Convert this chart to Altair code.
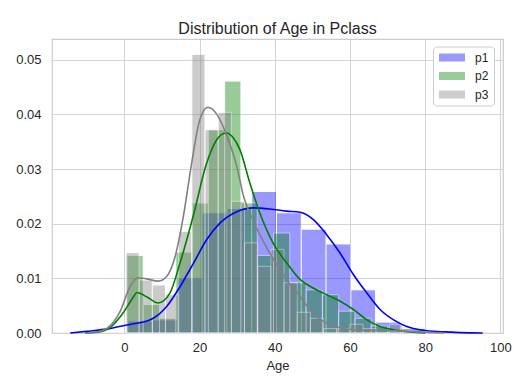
import altair as alt
import pandas as pd

# ---- data ----
series = ["p1", "p2", "p3"]
colors = ["blue", "green", "gray"]

# histogram bins: first edge, bin width, bar heights (density)
bin_start = [0.92, 0.67, 0.42]
bin_width = [6.59, 4.333, 3.504]
p1_hist = [0.0022, 0.0024, 0.0101, 0.0220, 0.0228, 0.0259, 0.0220, 0.0190,
           0.0163, 0.0079, 0.0020, 0.0008]
p2_hist = [0.0142, 0.0052, 0.0027, 0.0148, 0.0238, 0.0372, 0.0461, 0.0238,
           0.0142, 0.0183, 0.0092, 0.0079, 0.0070, 0.0040, 0.0027, 0.0013]
p3_hist = [0.0147, 0.0097, 0.0088, 0.0070, 0.0186, 0.0510, 0.0372, 0.0404,
           0.0241, 0.0165, 0.0122, 0.0153, 0.0092, 0.0038, 0.0027, 0.0008,
           0.0008, 0.0016, 0.0008, 0.0000, 0.0016]

# KDE curves (age, density)
p1_kde_x = [-14.4, -10.0, -4.0, 2.4, 5.1, 7.7, 11.3, 14.8, 18.4, 21.9, 25.4,
            29.9, 34.3, 38.7, 43.1, 46.7, 50.2, 53.8, 57.4, 60.9, 64.5, 68.0,
            71.6, 75.1, 78.6, 85.0, 95.3]
p1_kde_y = [0.0, 0.0003, 0.0008, 0.0017, 0.0020, 0.0027, 0.0049, 0.0085,
            0.0128, 0.0171, 0.0201, 0.0222, 0.0229, 0.0227, 0.0223, 0.0221,
            0.0208, 0.0180, 0.0146, 0.0107, 0.0073, 0.0043, 0.0024, 0.0012,
            0.0006, 0.0002, 0.0]
p2_kde_x = [-10.4, -6.0, -3.8, -0.3, 2.4, 3.3, 6.0, 9.0, 12.1, 14.8, 18.3,
            21.9, 24.6, 27.0, 29.0, 30.7, 33.4, 36.0, 39.6, 43.2, 46.7, 50.3,
            53.8, 57.4, 60.9, 64.5, 68.0, 71.6, 76.0, 80.0]
p2_kde_y = [0.0, 0.0003, 0.0010, 0.0037, 0.0066, 0.0074, 0.0066, 0.0055,
            0.0073, 0.0128, 0.0214, 0.0311, 0.0354, 0.0366, 0.0357, 0.0336,
            0.0274, 0.0220, 0.0164, 0.0128, 0.0098, 0.0082, 0.0070, 0.0058,
            0.0043, 0.0024, 0.0012, 0.0006, 0.0002, 0.0]
p3_kde_x = [-10.0, -6.0, -3.8, -1.1, 1.5, 3.7, 5.9, 9.0, 11.3, 13.5, 15.7,
            17.9, 20.1, 22.2, 24.6, 27.3, 29.9, 31.7, 34.3, 38.7, 43.1, 46.7,
            50.2, 53.8, 57.4, 60.9, 66.0, 72.0, 78.0, 85.0]
p3_kde_y = [0.0, 0.0004, 0.0013, 0.0040, 0.0085, 0.0101, 0.0099, 0.0095,
            0.0104, 0.0140, 0.0214, 0.0311, 0.0391, 0.0413, 0.0400, 0.0360,
            0.0305, 0.0250, 0.0205, 0.0146, 0.0098, 0.0067, 0.0036, 0.0018,
            0.0009, 0.0006, 0.0005, 0.0004, 0.0002, 0.0]

x_ticks = [0, 20, 40, 60, 80, 100]
y_ticks = [0.0, 0.01, 0.02, 0.03, 0.04, 0.05]

# ---- tables ----
rows = []
for s, start, w, hs in zip(series, bin_start, bin_width, [p1_hist, p2_hist, p3_hist]):
    for i, h in enumerate(hs):
        rows.append({"series": s, "x0": start + i * w, "x1": start + (i + 1) * w,
                     "density": h})
bars_df = pd.DataFrame(rows)

krows = []
for s, xs, ys in zip(series, [p1_kde_x, p2_kde_x, p3_kde_x],
                     [p1_kde_y, p2_kde_y, p3_kde_y]):
    for a, d in zip(xs, ys):
        krows.append({"series": s, "age": a, "density": d})
kde_df = pd.DataFrame(krows)

FONT = "Liberation Sans"
TXT = "#262626"

xscale = alt.Scale(domain=[-19.25, 100.7], nice=False, zero=False)
yscale = alt.Scale(domain=[0, 0.0538], nice=False)

xaxis = alt.Axis(values=x_ticks, title="Age", format="d", labelPadding=8,
                 titlePadding=5)
yaxis = alt.Axis(values=y_ticks, title=None, format=".2f", labelPadding=11)

legend_symbol = "M-2.17,-0.67H2.17V0.67H-2.17Z"

bars = alt.Chart(bars_df).mark_rect(
    opacity=0.4, stroke="white", strokeWidth=1
).encode(
    x=alt.X("x0:Q", scale=xscale, axis=xaxis),
    x2="x1:Q",
    y=alt.Y("density:Q", scale=yscale, axis=yaxis),
    y2=alt.datum(0),
    color=alt.Color(
        "series:N",
        scale=alt.Scale(domain=series, range=colors),
        legend=alt.Legend(
            title=None, orient="none", legendX=381, legendY=7.5,
            symbolType=legend_symbol, symbolSize=144, symbolOpacity=0.4,
            symbolStrokeWidth=0, rowPadding=6.5, padding=5,
            symbolOffset=8, labelOffset=17,
            fillColor="white", strokeColor="#cccccc", cornerRadius=3,
            labelFont=FONT, labelFontSize=12, labelColor=TXT,
        ),
    ),
)

lines = alt.Chart(kde_df).mark_line(strokeWidth=1.6, interpolate="monotone").encode(
    x=alt.X("age:Q", scale=xscale),
    y=alt.Y("density:Q", scale=yscale),
    stroke=alt.Stroke("series:N", scale=alt.Scale(domain=series, range=colors),
                      legend=None),
    detail="series:N",
)

chart = alt.layer(bars, lines).properties(
    width=451,
    height=294,
    title=alt.TitleParams("Distribution of Age in Pclass", font=FONT, fontSize=16,
                          fontWeight="normal", color=TXT, offset=2,
                          anchor="middle"),
    autosize=alt.AutoSizeParams(type="none"),
    padding={"left": 44, "top": 31, "right": 14, "bottom": 50},
).configure_view(
    stroke="#cccccc", strokeWidth=1.2
).configure_axis(
    grid=True, gridColor="#d4d4d4", gridWidth=1, domain=False, ticks=False,
    labelFont=FONT, labelFontSize=13, labelColor=TXT,
    titleFont=FONT, titleFontSize=13, titleColor=TXT, titleFontWeight="normal",
)

chart.save("out.html", embed_options={"renderer": "svg", "actions": False})
